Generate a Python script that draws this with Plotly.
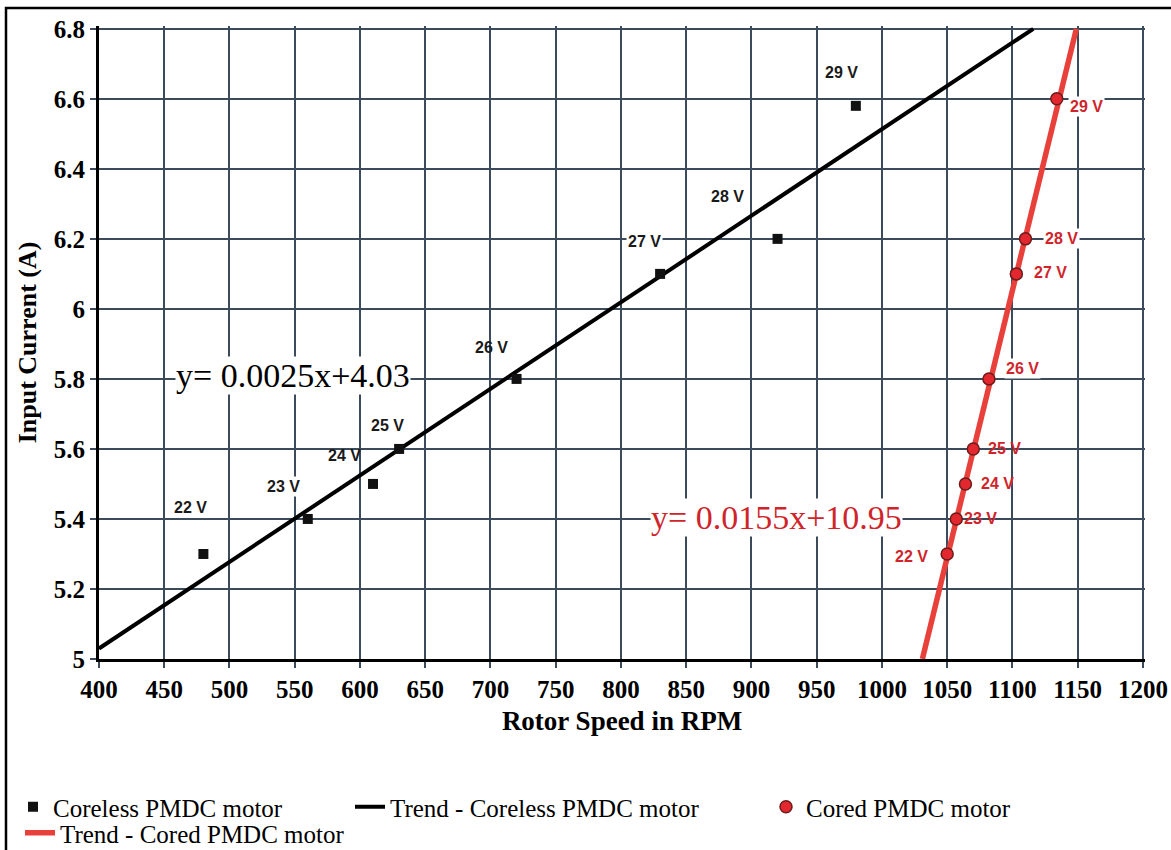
import plotly.graph_objects as go

# ---------------- data ----------------
voltages = ["22 V", "23 V", "24 V", "25 V", "26 V", "27 V", "28 V", "29 V"]

coreless_rpm = [480, 560, 610, 630, 720, 830, 920, 980]
coreless_current = [5.3, 5.4, 5.5, 5.6, 5.8, 6.1, 6.2, 6.58]

cored_rpm = [1050, 1057, 1064, 1070, 1082, 1103, 1110, 1134]
cored_current = [5.3, 5.4, 5.5, 5.6, 5.8, 6.1, 6.2, 6.6]

# trend line end points
trend_coreless_rpm = [400, 1116]
trend_coreless_current = [5.03, 6.8]
trend_cored_rpm = [1031, 1149]
trend_cored_current = [5.0, 6.8]

eq_coreless = "y= 0.0025x+4.03"
eq_cored = "y= 0.0155x+10.95"

x_ticks = list(range(400, 1201, 50))
y_ticks = [5, 5.2, 5.4, 5.6, 5.8, 6, 6.2, 6.4, 6.6, 6.8]

# ---------------- styling ----------------
SERIF = "Liberation Serif, Times New Roman, serif"
SANS = "Liberation Sans, Arial, sans-serif"
RED_LINE = "#e8403a"
RED_FILL = "#e2282e"
RED_TEXT = "#d0242b"
GRID = "#3b4b5b"

# label offsets (pixels, dx right, dy down) and whether label has white background
coreless_label_offsets = [(-13, -46), (-24, -32), (-29, -28), (-12, -23),
                          (-25, -31), (-16, -32), (-50, -42), (-14, -33)]
coreless_label_bg = [True, True, False, True, False, True, True, True]
cored_label_offsets = [(-36, 3), (24, 0), (32, 0), (31, 0),
                       (34, -10), (34, -1), (36, 0), (30, 8)]
cored_label_bg = [True, False, False, False, True, True, True, True]

fig = go.Figure()

fig.add_trace(go.Scatter(
    x=trend_coreless_rpm, y=trend_coreless_current, mode="lines",
    name="Trend - Coreless PMDC motor", legend="legend2",
    line=dict(color="black", width=4)))
fig.add_trace(go.Scatter(
    x=trend_cored_rpm, y=trend_cored_current, mode="lines",
    name="Trend - Cored PMDC motor", legend="legend4",
    line=dict(color=RED_LINE, width=5.5)))
fig.add_trace(go.Scatter(
    x=coreless_rpm, y=coreless_current, mode="markers",
    name="Coreless PMDC motor", legend="legend",
    marker=dict(symbol="square", size=10, color="#111111")))
fig.add_trace(go.Scatter(
    x=cored_rpm, y=cored_current, mode="markers",
    name="Cored PMDC motor", legend="legend3",
    marker=dict(symbol="circle", size=12, color=RED_FILL,
                line=dict(color="#6e1b1b", width=1.5))))

annotations = []
for xv, yv, lab, (dx, dy), bg in zip(coreless_rpm, coreless_current, voltages,
                                      coreless_label_offsets, coreless_label_bg):
    annotations.append(dict(
        x=xv, y=yv, xref="x", yref="y", text=lab, showarrow=False,
        xshift=dx, yshift=-dy, borderpad=1,
        bgcolor="white" if bg else "rgba(0,0,0,0)",
        font=dict(family=SANS, size=16, color="#1a1a1a", weight="bold")))
for xv, yv, lab, (dx, dy), bg in zip(cored_rpm, cored_current, voltages,
                                      cored_label_offsets, cored_label_bg):
    annotations.append(dict(
        x=xv, y=yv, xref="x", yref="y", text=lab, showarrow=False,
        xshift=dx, yshift=-dy, borderpad=1,
        bgcolor="white" if bg else "rgba(0,0,0,0)",
        font=dict(family=SANS, size=16, color=RED_TEXT, weight="bold")))

annotations.append(dict(
    x=548.7, y=5.809, xref="x", yref="y", text=eq_coreless, showarrow=False,
    bgcolor="white", borderpad=0,
    font=dict(family=SERIF, size=34, color="black")))
annotations.append(dict(
    x=919.5, y=5.403, xref="x", yref="y", text=eq_cored, showarrow=False,
    bgcolor="white", borderpad=0,
    font=dict(family=SERIF, size=34, color=RED_TEXT)))

L, W, T, H = 99, 1046, 26, 633


def legend_at(px, py):
    return dict(
        orientation="h", x=(px - L) / W, xanchor="left",
        y=(T + H - py) / H, yanchor="top",
        font=dict(family=SERIF, size=25, color="black"),
        bgcolor="rgba(0,0,0,0)")


fig.update_layout(
    width=1171, height=850,
    margin=dict(l=L, r=1171 - L - W, t=T, b=850 - T - H, autoexpand=False),
    paper_bgcolor="white", plot_bgcolor="white",
    annotations=annotations,
    showlegend=True,
    legend=legend_at(13, 784),
    legend2=legend_at(350, 784),
    legend3=legend_at(766, 784),
    legend4=legend_at(20, 810),
    shapes=[dict(type="rect", xref="paper", yref="paper",
                 x0=(6 - L) / W, x1=1.06, y0=-0.45, y1=(T + H - 8) / H,
                 line=dict(color="black", width=2.5), layer="above")],
    xaxis=dict(
        range=[400, 1201.6], tickvals=x_ticks,
        showgrid=True, gridcolor=GRID, gridwidth=1.5,
        showline=True, linecolor="black", linewidth=3,
        ticks="outside", ticklen=6, tickcolor=GRID, tickwidth=1.5,
        zeroline=False,
        tickfont=dict(family=SERIF, size=25, color="black", weight="bold"),
        title=dict(text="Rotor Speed in RPM", standoff=10,
                   font=dict(family=SERIF, size=27, color="black", weight="bold"))),
    yaxis=dict(
        range=[5, 6.808], tickvals=y_ticks,
        ticktext=[f"{v:g}" for v in y_ticks],
        showgrid=True, gridcolor=GRID, gridwidth=1.5,
        showline=True, linecolor="black", linewidth=3,
        ticks="outside", ticklen=6, tickcolor=GRID, tickwidth=1.5,
        zeroline=False,
        tickfont=dict(family=SERIF, size=25, color="black", weight="bold"),
        title=dict(text="Input Current (A)", standoff=10,
                   font=dict(family=SERIF, size=26, color="black", weight="bold"))),
)

fig.write_html("out.html")
